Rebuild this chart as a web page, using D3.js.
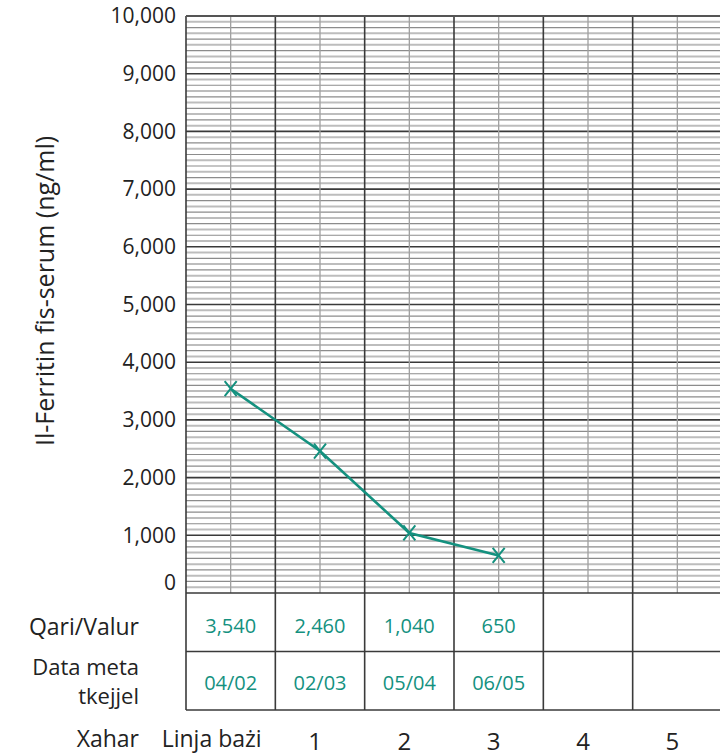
<!DOCTYPE html>
<html><head><meta charset="utf-8">
<script src="https://cdn.jsdelivr.net/npm/d3@7/dist/d3.min.js"></script>
<style>body{margin:0;background:#fff} text{font-family:"Open Sans",sans-serif}</style>
</head><body><svg id="c" width="720" height="756"></svg>
<script>
// ---- data ----
const columns = ["Linja bażi", "1", "2", "3", "4", "5"];
const ferritin = [3540, 2460, 1040, 650];
const valueLabels = ["3,540", "2,460", "1,040", "650"];
const dates = ["04/02", "02/03", "05/04", "06/05"];
const yTicks = [0, 1000, 2000, 3000, 4000, 5000, 6000, 7000, 8000, 9000, 10000];
const yTitle = "Il-Ferritin fis-serum (ng/ml)";
const rowLabel1 = ["Qari/Valur"];
const rowLabel2 = ["Data meta", "tkejjel"];
const xLabel = "Xahar";

// ---- layout ----
const svg = d3.select("#c");
const pLeft = 186, pRight = 722, pTop = 16, pBottom = 593;
const rowH = 58.5;
const teal = "#14917f";

const x = d3.scaleBand().domain(columns).range([pLeft, pRight]).padding(0);
const bw = x.bandwidth();
const y = d3.scaleLinear().domain([0, 10000]).range([pBottom, pTop]);

// horizontal grid every 100
const minor = d3.range(100, 10000, 100);
const g = svg.append("g");
g.selectAll("line.h").data(minor).join("line")
  .attr("x1", pLeft).attr("x2", pRight)
  .attr("y1", d => y(d)).attr("y2", d => y(d))
  .attr("stroke", d => d % 1000 === 0 ? "#3a3a3a" : (d % 200 === 0 ? "#8c8c8c" : "#bdbdbd"))
  .attr("stroke-width", d => d % 1000 === 0 ? 1.6 : (d % 200 === 0 ? 1.2 : 2));

// vertical minor lines (column centers)
g.selectAll("line.vm").data(columns).join("line")
  .attr("x1", d => x(d) + bw / 2).attr("x2", d => x(d) + bw / 2)
  .attr("y1", pTop).attr("y2", pBottom)
  .attr("stroke", "#a0a0a0").attr("stroke-width", 1.3);

// vertical major lines (column boundaries) through grid + table
const bounds = columns.map(c => x(c)).concat([pRight]);
g.selectAll("line.vM").data(bounds).join("line")
  .attr("x1", d => d).attr("x2", d => d)
  .attr("y1", pTop).attr("y2", pBottom + 2 * rowH)
  .attr("stroke", "#3a3a3a").attr("stroke-width", 1.6);

// borders: top, bottom (0), table rows
[pTop, pBottom, pBottom + rowH, pBottom + 2 * rowH].forEach((yy, i) => {
  g.append("line").attr("x1", pLeft).attr("x2", pRight).attr("y1", yy).attr("y2", yy)
    .attr("stroke", i === 0 ? "#555" : "#3a3a3a").attr("stroke-width", i === 0 ? 2 : 1.6);
});

// y axis
const yAxis = svg.append("g").attr("transform", `translate(${pLeft},0)`)
  .call(d3.axisLeft(y).tickValues(yTicks).tickFormat(d3.format(",")).tickSize(0).tickPadding(10));
yAxis.select(".domain").remove();
yAxis.selectAll("text").attr("font-size", 21).attr("fill", "#222")
  .style("font-family", '"Open Sans",sans-serif');
yAxis.selectAll(".tick").filter(d => d === 0).select("text").attr("y", -10);

// y title
svg.append("text").attr("transform", "translate(54,291) rotate(-90)")
  .attr("text-anchor", "middle").attr("font-size", 25).attr("fill", "#222").text(yTitle);

// line + markers
const cx = i => x(columns[i]) + bw / 2;
svg.append("path").datum(ferritin)
  .attr("d", d3.line().x((d, i) => cx(i)).y(d => y(d)))
  .attr("fill", "none").attr("stroke", teal).attr("stroke-width", 2.6);
svg.selectAll("path.mk").data(ferritin).join("path")
  .attr("transform", (d, i) => `translate(${cx(i)},${y(d)})`)
  .attr("d", "M-6,-7.5L6,7.5M6,-7.5L-6,7.5")
  .attr("stroke", teal).attr("stroke-width", 2).attr("fill", "none");

// table values
svg.selectAll("text.v").data(valueLabels).join("text")
  .attr("x", (d, i) => cx(i)).attr("y", pBottom + 39.5)
  .attr("text-anchor", "middle").attr("font-size", 20).attr("fill", teal).text(d => d);
svg.selectAll("text.dt").data(dates).join("text")
  .attr("x", (d, i) => cx(i)).attr("y", pBottom + rowH + 38)
  .attr("text-anchor", "middle").attr("font-size", 20).attr("fill", teal).text(d => d);

// row labels
const rl = svg.append("g").attr("font-size", 23).attr("fill", "#222").attr("text-anchor", "end");
rl.append("text").attr("x", 139).attr("y", 635).text(rowLabel1[0]);
const two = rl.append("text").attr("x", 139).attr("y", 675).attr("font-size", 22);
two.selectAll("tspan").data(rowLabel2).join("tspan")
  .attr("x", 139).attr("dy", (d, i) => i === 0 ? 0 : 29).text(d => d);
rl.append("text").attr("x", 139).attr("y", 747).text(xLabel);

// bottom column labels
svg.selectAll("text.col").data(columns).join("text")
  .attr("x", (d, i) => x(d) + bw / 2 + (i === 0 ? -19 : -5))
  .attr("y", (d, i) => i === 0 ? 747 : 750)
  .attr("text-anchor", "middle").attr("font-size", (d, i) => i === 0 ? 23 : 24)
  .attr("fill", "#222").text(d => d);
</script></body></html>
